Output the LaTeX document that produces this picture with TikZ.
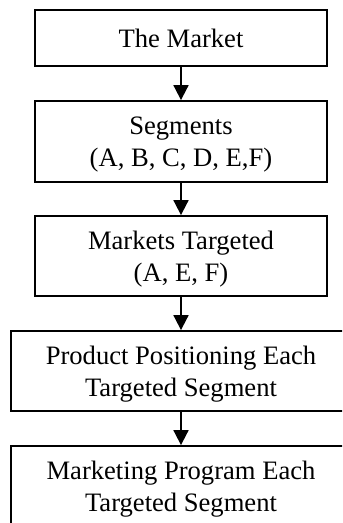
\documentclass[tikz,border=0pt]{standalone}
\usepackage{fontspec}
\setmainfont{Liberation Serif}
\usetikzlibrary{arrows.meta}

\begin{document}
\begin{tikzpicture}[x=0.5pt,y=-0.5pt,
    box/.style={draw,line width=0.9pt,align=center,inner sep=0pt,text depth=0pt,
      font=\fontsize{13.3}{15.8}\selectfont,minimum width=146pt},
    wide/.style={box,minimum width=170pt,minimum height=40pt},
    flow/.style={-{Triangle[length=7.5pt,width=7.5pt]},line width=0.9pt}]
    \clip (0,0) rectangle (342,523);

    \node[box,minimum height=28pt] (market) at (181,38) {The Market};
    \node[box,minimum height=40.5pt] (segments) at (181,141.5) {Segments\\(A, B, C, D, E,F)};
    \node[box,minimum height=40pt] (targeted) at (181,256) {Markets Targeted\\(A, E, F)};
    \node[wide] (positioning) at (181,371) {Product Positioning Each\\Targeted Segment};
    \node[wide] (program) at (181,486) {Marketing Program Each\\Targeted Segment};

    \draw[flow] (market) -- (segments);
    \draw[flow] (segments) -- (targeted);
    \draw[flow] (targeted) -- (positioning);
    \draw[flow] (positioning) -- (program);
  \end{tikzpicture}
\end{document}
